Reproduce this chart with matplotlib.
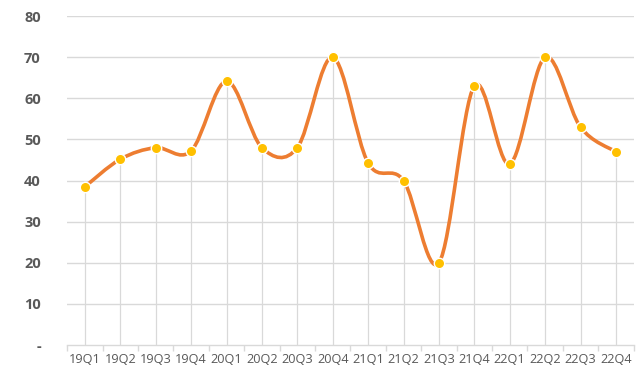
import matplotlib
matplotlib.use("Agg")
import matplotlib.pyplot as plt
from matplotlib.path import Path
from matplotlib.patches import PathPatch

quarters = ["19Q1", "19Q2", "19Q3", "19Q4", "20Q1", "20Q2", "20Q3", "20Q4",
            "21Q1", "21Q2", "21Q3", "21Q4", "22Q1", "22Q2", "22Q3", "22Q4"]
values = [38.5, 45.2, 48, 47.2, 64.2, 48, 48, 70,
          44.3, 40, 20, 63, 44, 70, 53, 47]
y_ticks = [0, 10, 20, 30, 40, 50, 60, 70, 80]
y_labels = ["-", "10", "20", "30", "40", "50", "60", "70", "80"]

plt.rcParams["font.family"] = ["Open Sans", "DejaVu Sans"]

fig = plt.figure(figsize=(6.4, 3.75), dpi=100)
ax = fig.add_axes([0.105, 0.08, 0.885, 0.877])

x = list(range(len(values)))

# gridlines and drop lines
for t in y_ticks[1:]:
    ax.axhline(t, color="#d9d9d9", lw=1.0, zorder=0)
ax.vlines(x, 0, values, color="#d9d9d9", lw=0.9, zorder=1)

# smoothed line (cubic bezier like Excel's smoothing)
verts = [(x[0], values[0])]
codes = [Path.MOVETO]
n = len(values)
for i in range(n - 1):
    p0 = (x[max(i - 1, 0)], values[max(i - 1, 0)])
    p1 = (x[i], values[i])
    p2 = (x[i + 1], values[i + 1])
    p3 = (x[min(i + 2, n - 1)], values[min(i + 2, n - 1)])
    c1 = (p1[0] + (p2[0] - p0[0]) / 6, p1[1] + (p2[1] - p0[1]) / 6)
    c2 = (p2[0] - (p3[0] - p1[0]) / 6, p2[1] - (p3[1] - p1[1]) / 6)
    verts += [c1, c2, p2]
    codes += [Path.CURVE4] * 3
ax.add_patch(PathPatch(Path(verts, codes), facecolor="none", edgecolor="#ed7d31",
                       lw=2.6, capstyle="round", zorder=3))
ax.plot(x, values, linestyle="none", marker="o", ms=7.5, mfc="#ffc000",
        mec="white", mew=1.0, zorder=4)

ax.set_xlim(-0.5, n - 0.5)
ax.set_ylim(0, 80)
ax.set_yticks(y_ticks, y_labels)
ax.set_xticks(x, quarters)
ax.set_xticks([i - 0.5 for i in range(n + 1)], minor=True)

for s in ["top", "right", "left"]:
    ax.spines[s].set_visible(False)
ax.spines["bottom"].set_color("#d9d9d9")
ax.spines["bottom"].set_linewidth(1.0)

ax.tick_params(axis="y", length=0, pad=19, labelsize=10.5, labelcolor="#595959")
for lbl in ax.get_yticklabels():
    lbl.set_fontweight("bold")
ax.tick_params(axis="x", which="major", length=0, pad=6, labelsize=9.2,
               labelcolor="#595959")
ax.tick_params(axis="x", which="minor", length=4, color="#d9d9d9", width=1.0)

fig.savefig("out.png", dpi=100)
